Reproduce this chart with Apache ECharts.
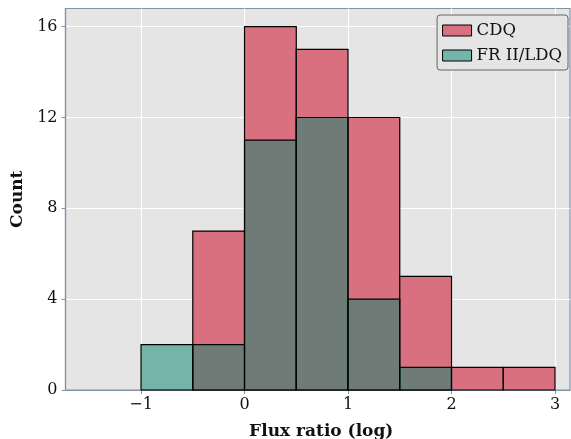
<!DOCTYPE html>
<html>
<head>
<meta charset="utf-8">
<script src="https://cdn.jsdelivr.net/npm/echarts@6/dist/echarts.min.js"></script>
<style>html,body{margin:0;padding:0;background:#fff;}#c{width:571px;height:439px;}</style>
</head>
<body>
<div id="c"></div>
<script>
const binEdges = [-1, -0.5, 0, 0.5, 1, 1.5, 2, 2.5, 3];
const cdqCounts = [0, 7, 16, 15, 12, 5, 1, 1];
const frCounts = [2, 2, 11, 12, 4, 1, 0, 0];
const xTicks = [-1, 0, 1, 2, 3];
const xTickLabels = ['\u22121', '0', '1', '2', '3'];
const yTicks = [0, 4, 8, 12, 16];

function toRects(counts) {
  const out = [];
  for (let i = 0; i < counts.length; i++) {
    if (counts[i] > 0) out.push([binEdges[i], binEdges[i + 1], counts[i]]);
  }
  return out;
}
function makeRender(fill) {
  return function (params, api) {
    const p0 = api.coord([api.value(0), api.value(2)]);
    const p1 = api.coord([api.value(1), 0]);
    return {
      type: 'rect',
      shape: { x: p0[0], y: p0[1], width: p1[0] - p0[0], height: p1[1] - p0[1] },
      style: { fill: fill, stroke: '#000', lineWidth: 1.2 }
    };
  };
}
const FONT = '"DejaVu Serif", serif';
const chart = echarts.init(document.getElementById('c'), null, { renderer: 'canvas' });
chart.setOption({
  animation: false,
  backgroundColor: '#fff',
  textStyle: { fontFamily: FONT },
  grid: { left: 65.5, right: 1, top: 8.5, bottom: 49, outerBoundsMode: 'none', containLabel: false,
    show: true, backgroundColor: '#e5e5e5', borderColor: '#8393a5', borderWidth: 1.2 },
  legend: {
    right: 3, top: 15, orient: 'vertical', itemWidth: 29, itemHeight: 11, itemGap: 8,
    backgroundColor: '#e5e5e5', borderColor: '#666', borderWidth: 1, borderRadius: 3,
    padding: [7, 6, 6, 5],
    textStyle: { fontFamily: FONT, fontSize: 16.5, color: '#111' },
    data: [
      { name: 'CDQ', icon: 'rect', itemStyle: { color: '#d97080', borderColor: '#000', borderWidth: 1 } },
      { name: 'FR II/LDQ', icon: 'rect', itemStyle: { color: '#74b5a9', borderColor: '#000', borderWidth: 1 } }
    ]
  },
  xAxis: {
    type: 'value', min: -1.73, max: 3.145,
    name: 'Flux ratio (log)', nameLocation: 'middle', nameGap: 33,
    nameTextStyle: { fontFamily: FONT, fontSize: 17, fontWeight: 'bold', color: '#111', padding: [0, 0, 0, 7] },
    axisLine: { show: true, onZero: false, lineStyle: { color: '#8393a5', width: 1.2 } },
    axisTick: { show: true, length: 4, customValues: xTicks, lineStyle: { color: '#8393a5' } },
    axisLabel: { customValues: xTicks, fontFamily: FONT, fontSize: 16, color: '#111', margin: 7,
      formatter: v => xTickLabels[xTicks.indexOf(Math.round(v))] },
    splitLine: { show: true, lineStyle: { color: '#fff', width: 1.2 } }
  },
  yAxis: {
    type: 'value', min: 0, max: 16.8,
    name: 'Count', nameLocation: 'middle', nameGap: 39.5,
    nameTextStyle: { fontFamily: FONT, fontSize: 17, fontWeight: 'bold', color: '#111' },
    axisLine: { show: true, onZero: false, lineStyle: { color: '#8393a5', width: 1.2 } },
    axisTick: { show: true, length: 4, customValues: yTicks, lineStyle: { color: '#8393a5' } },
    axisLabel: { customValues: yTicks, fontFamily: FONT, fontSize: 16, color: '#111', margin: 8 },
    splitLine: { show: true, lineStyle: { color: '#fff', width: 1.2 } }
  },
  series: [
    { name: 'CDQ', type: 'custom', renderItem: makeRender('#d97080'), itemStyle: { color: '#d97080' },
      encode: { x: [0, 1], y: 2 }, data: toRects(cdqCounts), z: 2 },
    { name: 'FR II/LDQ', type: 'custom', renderItem: makeRender('rgba(3,133,109,0.5)'), itemStyle: { color: '#74b5a9' },
      encode: { x: [0, 1], y: 2 }, data: toRects(frCounts), z: 3 }
  ]
});
</script>
</body>
</html>
